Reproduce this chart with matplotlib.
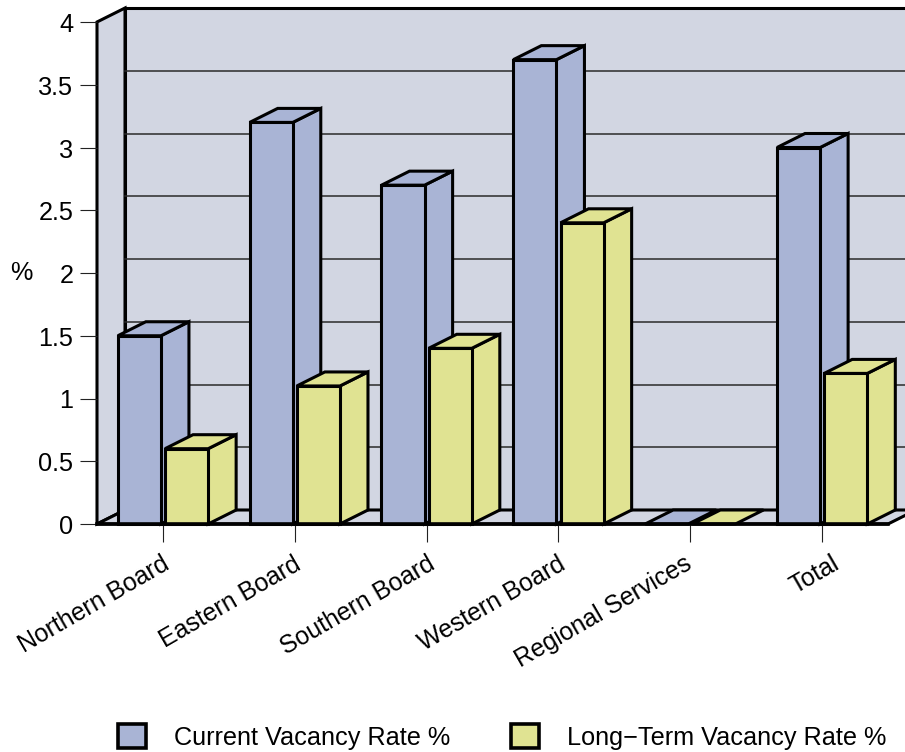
import matplotlib
matplotlib.use('Agg')
import matplotlib.pyplot as plt
from matplotlib.patches import Polygon, Patch
from matplotlib.transforms import ScaledTranslation

categories = ['Northern Board', 'Eastern Board', 'Southern Board', 'Western Board', 'Regional Services', 'Total']
current_rate = [1.5, 3.2, 2.7, 3.7, 0, 3.0]
longterm_rate = [0.6, 1.1, 1.4, 2.4, 0, 1.2]
y_ticks = [0, 0.5, 1, 1.5, 2, 2.5, 3, 3.5, 4]
y_tick_labels = ['0', '0.5', '1', '1.5', '2', '2.5', '3', '3.5', '4']
# nudge of each category label along x, in pixels
label_nudge = [-2, -2, 0, -1, -6, 9]

BLUE = '#A9B4D5'
YELLOW = '#E0E392'
WALL = '#D2D6E2'

# 3d depth of the box, in data units
DX = 28 / 131.8
DY = 14 / 125.5
BAR_W = 0.327
LW = 2.2

plt.rcParams['font.family'] = ['Liberation Sans', 'DejaVu Sans']
plt.rcParams['font.size'] = 18.2

fig = plt.figure(figsize=(9.05, 7.52), dpi=100)
ax = fig.add_axes([97 / 905, 1 - 524 / 752, 791 / 905, 502 / 752])
ax.set_xlim(0, 6)
ax.set_ylim(0, 4)
ax.patch.set_visible(False)
for s in ax.spines.values():
    s.set_visible(False)


def poly(pts, color, z, lw=LW):
    p = Polygon(pts, closed=True, facecolor=color, edgecolor='black', linewidth=lw,
                joinstyle='miter', clip_on=False, zorder=z)
    ax.add_patch(p)


def box(x0, h, color, z):
    x1 = x0 + BAR_W
    # side, front, top
    if h > 0:
        poly([(x1, 0), (x1 + DX, DY), (x1 + DX, h + DY), (x1, h)], color, z)
        poly([(x0, 0), (x1, 0), (x1, h), (x0, h)], color, z)
    poly([(x0, h), (x1, h), (x1 + DX, h + DY), (x0 + DX, h + DY)], color, z)


far = 6.3
# walls and floor
poly([(DX, DY), (far, DY), (far, 4 + DY), (DX, 4 + DY)], WALL, 1)
poly([(0, 0), (DX, DY), (DX, 4 + DY), (0, 4)], WALL, 1)
poly([(0, 0), (6, 0), (6 + DX, DY), (DX, DY)], WALL, 1)
for v in y_ticks[1:-1]:
    ax.plot([DX, far], [v + DY, v + DY], color='#2a2a2a', lw=1.1, clip_on=False, zorder=2)

centers = [i + 0.5 for i in range(len(categories))]
for i, c in enumerate(centers):
    box(c - 0.342, current_rate[i], BLUE, 3 + i * 2)
    box(c + 0.016, longterm_rate[i], YELLOW, 4 + i * 2)

# front edge drawn over the floor
ax.plot([0, 6], [0, 0], color='black', lw=LW + 0.4, clip_on=False, zorder=20, solid_capstyle='projecting')

ax.set_yticks(y_ticks)
ax.set_yticklabels(y_tick_labels)
ax.set_xticks(centers)
ax.set_xticklabels(categories, rotation=30, ha='right', va='top', rotation_mode='anchor', fontsize=17.9)
ax.tick_params(axis='y', length=12, width=0.8, pad=5, color='#222222')
ax.tick_params(axis='x', length=13, width=0.8, pad=7, color='#222222')
for lab, nudge in zip(ax.get_xticklabels(), label_nudge):
    lab.set_transform(lab.get_transform() + ScaledTranslation(nudge / 100, 0, fig.dpi_scale_trans))
for lab in ax.get_yticklabels():
    lab.set_transform(lab.get_transform() + ScaledTranslation(0, -0.5 / 100, fig.dpi_scale_trans))
ax.set_ylabel('%', rotation=0, va='center', ha='center')
ax.yaxis.set_label_coords(-76 / 791, 0.5)

handles = [Patch(facecolor=BLUE, edgecolor='black', linewidth=LW + 0.4),
           Patch(facecolor=YELLOW, edgecolor='black', linewidth=LW + 0.4)]
fig.legend(handles, ['Current Vacancy Rate %', 'Long\u2212Term Vacancy Rate %'],
           ncol=2, frameon=False, loc='lower left', bbox_to_anchor=(118 / 905, 2.5 / 752),
           borderpad=0, borderaxespad=0, handlelength=1.11, handleheight=1.11,
           handletextpad=1.11, columnspacing=2.4)

fig.savefig('out.png', dpi=100)
plt.close(fig)
